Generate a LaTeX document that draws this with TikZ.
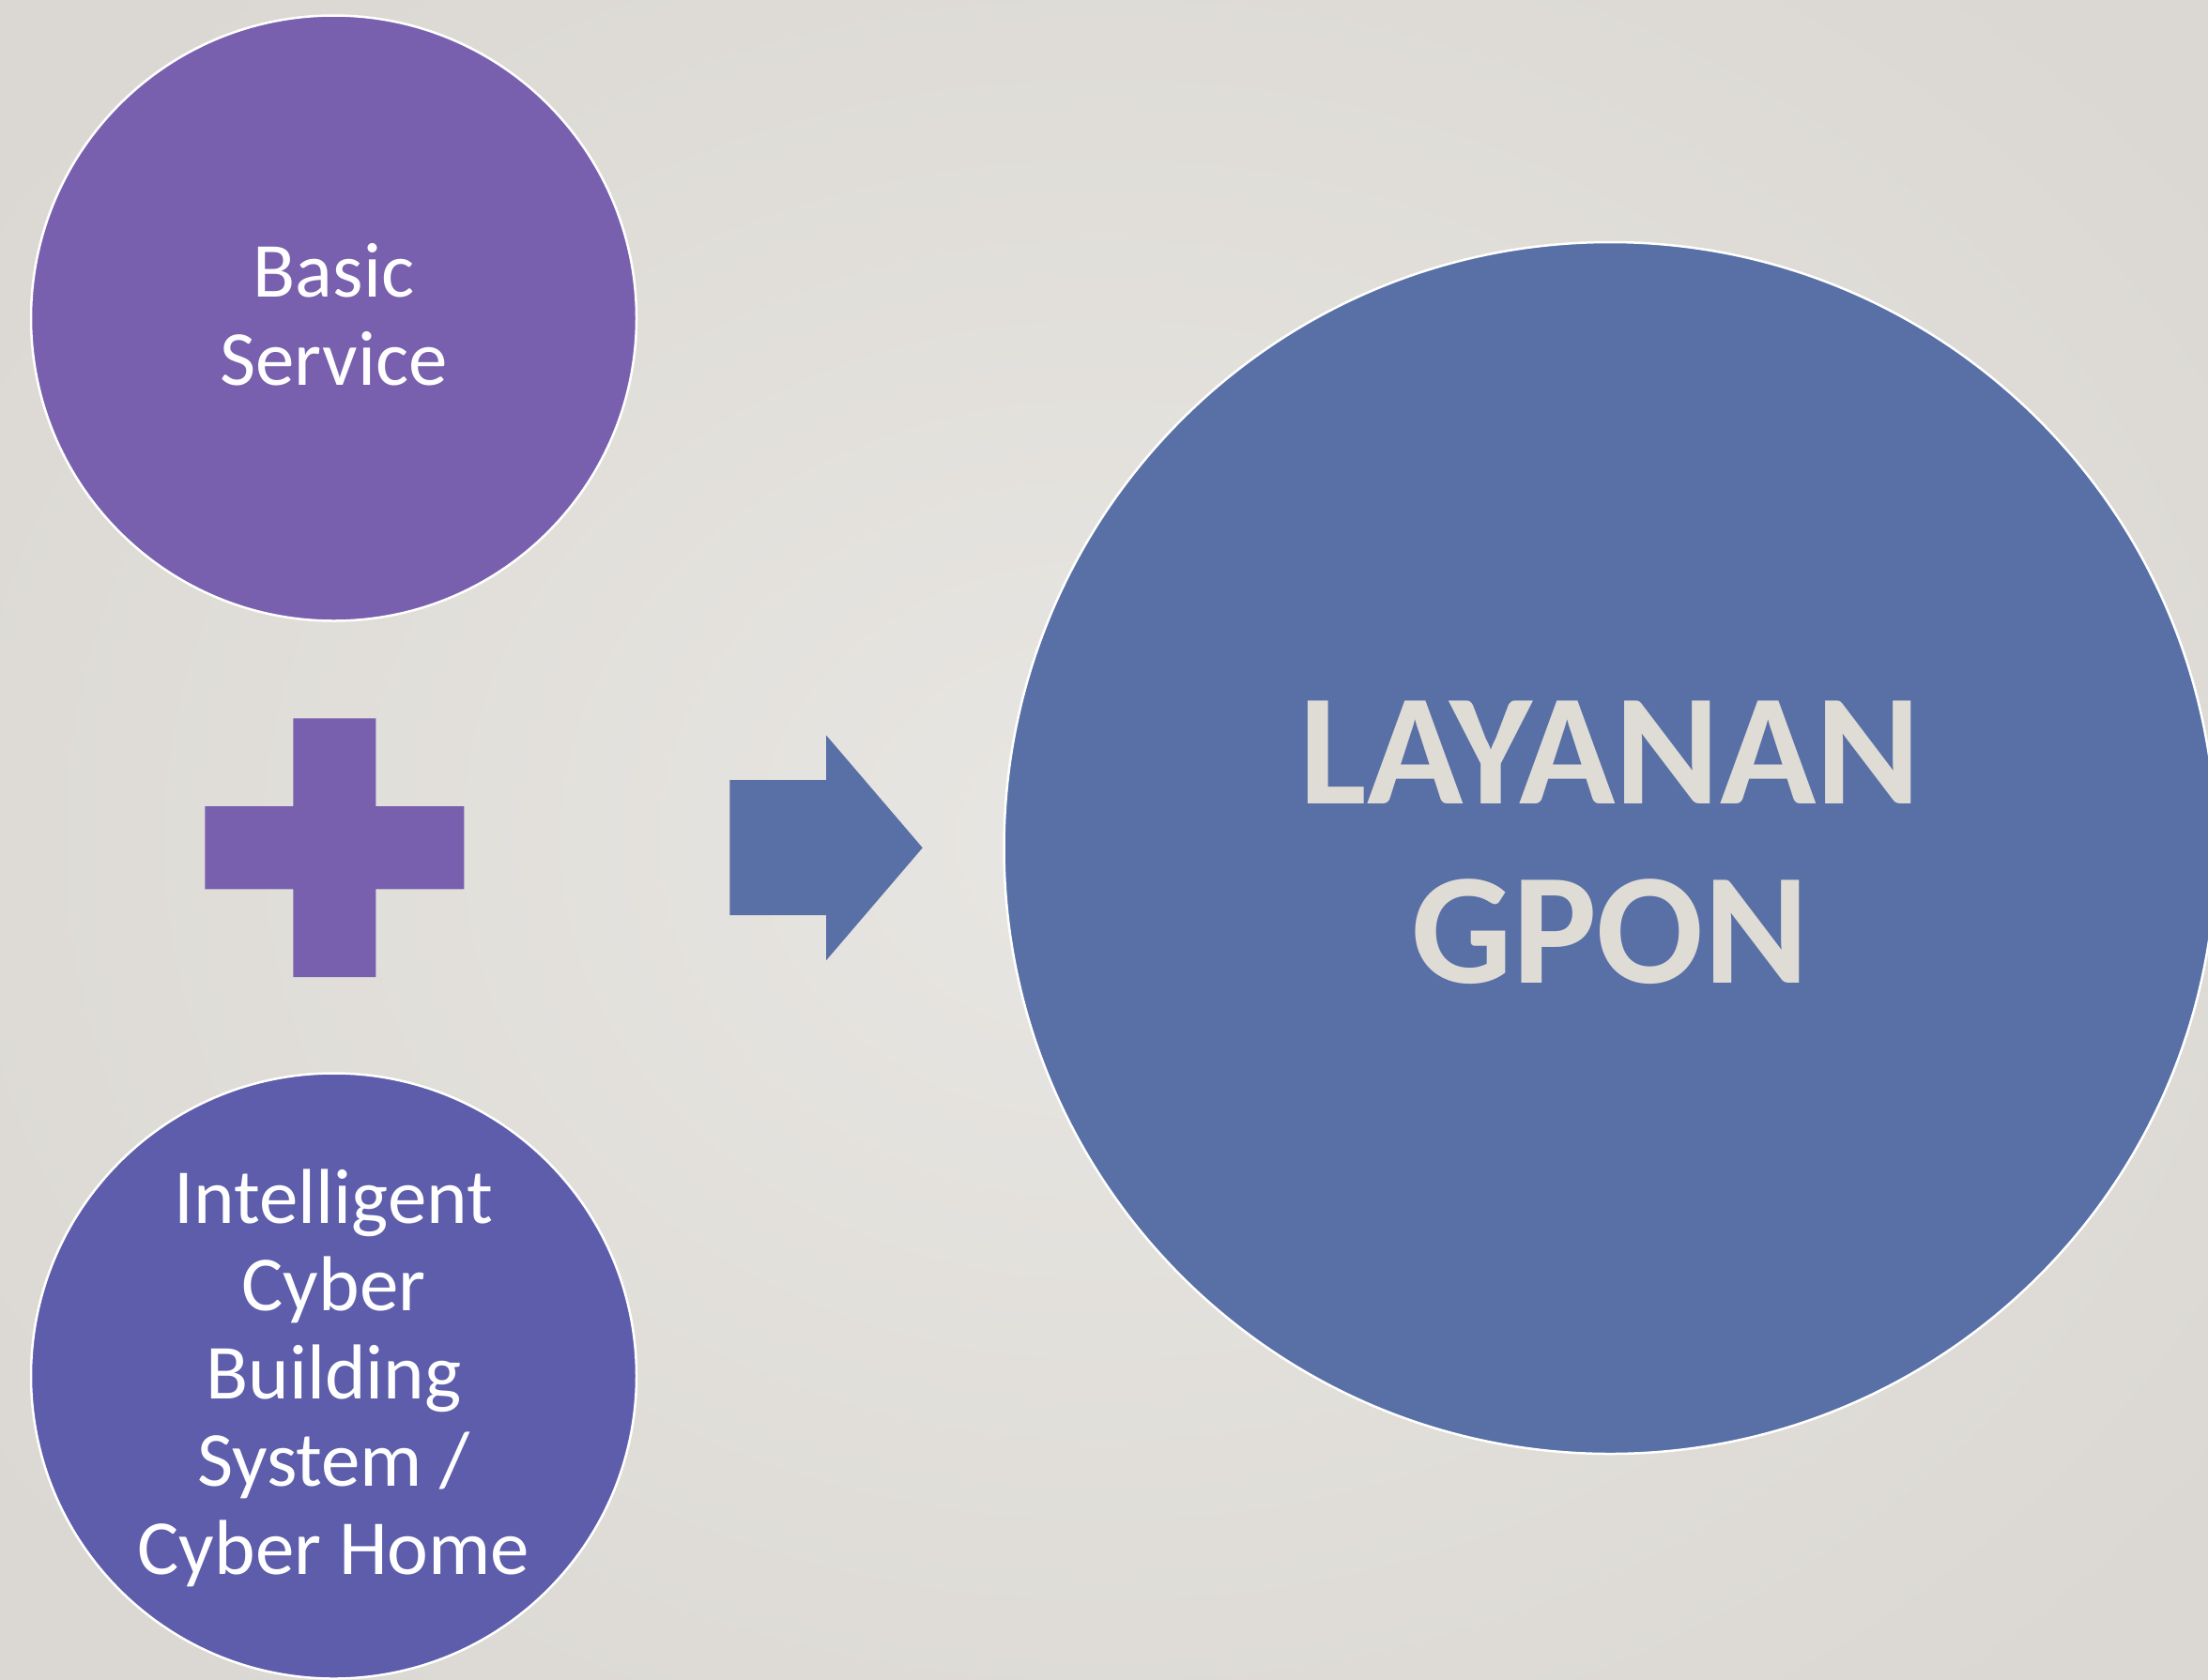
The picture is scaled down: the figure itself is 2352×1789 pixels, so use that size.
\documentclass[tikz,border=0pt]{standalone}
\usepackage{fontspec}
\setmainfont{Carlito}
\usepackage{tikz}

\definecolor{bgin}{HTML}{E8E6E2}
\definecolor{bgout}{HTML}{DBD8D3}
\definecolor{violet}{HTML}{7860AE}
\definecolor{indigo}{HTML}{5D5DAB}
\definecolor{steel}{HTML}{5870A6}
\definecolor{paper}{HTML}{DFDCD5}

\begin{document}
\begin{tikzpicture}
      [x=1pt,y=-1pt,
       disc/.style={circle,draw=white,line width=2.5pt,inner sep=0pt},
       small text/.style={align=center,text=white,font=\fontsize{83}{93.5}\selectfont},
       big text/.style={align=center,text=paper,font=\fontsize{169}{191}\selectfont\bfseries}]
        \useasboundingbox (0,0) rectangle (2352,1789);
        \clip (0,0) rectangle (2352,1789);
        \fill[inner color=bgin,outer color=bgout] (-300,-300) rectangle (2652,2089);

        \node[disc,fill=violet,minimum size=645pt] (basic) at (355.5,339) {};
        \node[disc,fill=indigo,minimum size=645pt] (cyber) at (355.5,1466) {};
        \node[disc,fill=steel,minimum size=1291pt] (gpon) at (1715,903.5) {};

        \node[small text,yshift=4pt] (basic label) at (basic.center) {Basic\\Service};
        \node[small text,yshift=-2pt] (cyber label) at (cyber.center) {Intelligent\\Cyber\\Building\\System /\\Cyber Home};
        \node[big text,yshift=6pt] (gpon label) at (gpon.center) {LAYANAN\\GPON};

        % plus sign
        \fill[violet] (312.3,765.3) -- (400.3,765.3) -- (400.3,859) -- (494.3,859) -- (494.3,947.3)
          -- (400.3,947.3) -- (400.3,1041) -- (312.3,1041) -- (312.3,947.3) -- (218.3,947.3)
          -- (218.3,859) -- (312.3,859) -- cycle;

        % block arrow
        \fill[steel] (777.3,831) -- (880,831) -- (880,783.3) -- (982.7,903.3) -- (880,1023.3)
          -- (880,975) -- (777.3,975) -- cycle;

      \end{tikzpicture}
\end{document}
